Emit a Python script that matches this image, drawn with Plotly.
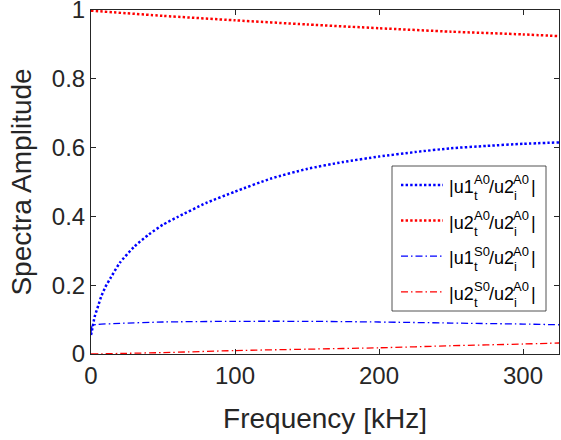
import plotly.graph_objects as go

# ---------------- data ----------------
freq_u1A0 = [0, 1, 2.5, 5, 7, 10, 14, 20, 30, 40, 50, 60, 80, 100, 125, 150, 175, 200, 225, 250, 275, 300, 325]
amp_u1A0 = [0.055, 0.075, 0.108, 0.14, 0.166, 0.195, 0.224, 0.265, 0.312, 0.347, 0.376, 0.398, 0.439,
            0.472, 0.51, 0.538, 0.558, 0.574, 0.587, 0.598, 0.605, 0.611, 0.615]

freq_u2A0 = [0, 50, 100, 150, 200, 250, 300, 325]
amp_u2A0 = [0.998, 0.983, 0.970, 0.958, 0.947, 0.937, 0.929, 0.924]

freq_u1S0 = [0, 1, 5, 20, 50, 100, 150, 200, 250, 300, 325]
amp_u1S0 = [0.06, 0.083, 0.086, 0.089, 0.093, 0.095, 0.095, 0.093, 0.090, 0.087, 0.085]

freq_u2S0 = [0, 25, 50, 100, 150, 200, 250, 300, 325]
amp_u2S0 = [0.0, 0.002, 0.004, 0.010, 0.014, 0.018, 0.024, 0.029, 0.032]

x_ticks = [0, 100, 200, 300]
y_ticks = [0, 0.2, 0.4, 0.6, 0.8, 1]
y_ticklabels = ["0", "0.2", "0.4", "0.6", "0.8", "1"]

# legend text pieces: |u1^{A0}_t / u2^{A0}_i|
leg_head = ["|u1", "|u2", "|u1", "|u2"]
leg_sup1 = ["A0", "A0", "S0", "S0"]
leg_sub1 = ["t", "t", "t", "t"]
leg_mid = ["/u2", "/u2", "/u2", "/u2"]
leg_sup2 = ["A0", "A0", "A0", "A0"]
leg_sub2 = ["i", "i", "i", "i"]
leg_tail = ["|", "|", "|", "|"]

# ---------------- styles ----------------
BLUE = "#0000ff"
RED = "#ff0000"
AX = "#262626"
FONT = "Liberation Sans, Arial, Helvetica, sans-serif"
DOT = "2.4px,2.2px"
DASHDOT = "7px,3px,1.5px,3px"
styles = [
    dict(color=BLUE, width=2.5, dash=DOT),
    dict(color=RED, width=2.5, dash=DOT),
    dict(color=BLUE, width=1.3, dash=DASHDOT),
    dict(color=RED, width=1.3, dash=DASHDOT),
]

# plot area in pixels
L, R, T, B = 91, 559, 10, 354
W, H = 561, 440

fig = go.Figure()
series = [(freq_u1A0, amp_u1A0), (freq_u2A0, amp_u2A0), (freq_u1S0, amp_u1S0), (freq_u2S0, amp_u2S0)]
for (fx, fy), st in zip(series, styles):
    fig.add_trace(go.Scatter(x=fx, y=fy, mode="lines", line=dict(**st, shape="spline", smoothing=0.6),
                             showlegend=False, hoverinfo="skip"))


def px2paper(px, py):
    return (px - L) / (R - L), (B - py) / (B - T)


# ---------------- custom legend ----------------
shapes = []
annotations = []
bx0, by0 = px2paper(392, 166)
bx1, by1 = px2paper(546, 311)
shapes.append(dict(type="rect", xref="paper", yref="paper", x0=bx0, x1=bx1, y0=by1, y1=by0,
                   fillcolor="white", line=dict(color=AX, width=0.8), layer="above"))

MAIN_FS = 18
SUP_FS = 13


def add_text(txt, px_left, baseline, fs):
    cy = baseline - 0.3465 * fs
    x, y = px2paper(px_left, cy)
    annotations.append(dict(text=txt, xref="paper", yref="paper", x=x, y=y, xanchor="left",
                            yanchor="middle", showarrow=False, borderpad=0,
                            font=dict(family=FONT, size=fs, color="black")))


for i in range(4):
    sy = 185 + 35.6 * i
    sx0, syp = px2paper(401, sy)
    sx1, _ = px2paper(443, sy)
    st = styles[i]
    shapes.append(dict(type="line", xref="paper", yref="paper", x0=sx0, x1=sx1, y0=syp, y1=syp,
                       line=dict(color=st["color"], width=st["width"], dash=st["dash"]), layer="above"))
    base = sy + 8.5
    add_text(leg_head[i], 448, base, MAIN_FS)
    add_text(leg_sup1[i], 473, base - 9, SUP_FS)
    add_text(leg_sub1[i], 473, base + 6.5, SUP_FS)
    add_text(leg_mid[i], 488, base, MAIN_FS)
    add_text(leg_sup2[i], 512, base - 9, SUP_FS)
    add_text(leg_sub2[i], 512.5, base + 6.5, SUP_FS)
    add_text(leg_tail[i], 530, base, MAIN_FS)

axis_common = dict(showline=True, linecolor=AX, linewidth=1, mirror="ticks", ticks="inside",
                   ticklen=5, tickwidth=1, tickcolor=AX, showgrid=False, zeroline=False,
                   ticklabeloverflow="allow",
                   tickfont=dict(family=FONT, size=24, color=AX), automargin=False)

fig.update_layout(
    width=W, height=H,
    margin=dict(l=L, r=W - R, t=T, b=H - B),
    paper_bgcolor="white", plot_bgcolor="white",
    xaxis=dict(range=[0, 325], tickvals=x_ticks, ticktext=[str(v) for v in x_ticks],
               title=dict(text="Frequency [kHz]", font=dict(family=FONT, size=28, color=AX), standoff=20),
               **axis_common),
    yaxis=dict(range=[0, 1], tickvals=y_ticks, ticktext=y_ticklabels,
               title=dict(text="Spectra Amplitude", font=dict(family=FONT, size=28, color=AX), standoff=12),
               **axis_common),
    shapes=shapes,
    annotations=annotations,
)

fig.write_html("out.html")
